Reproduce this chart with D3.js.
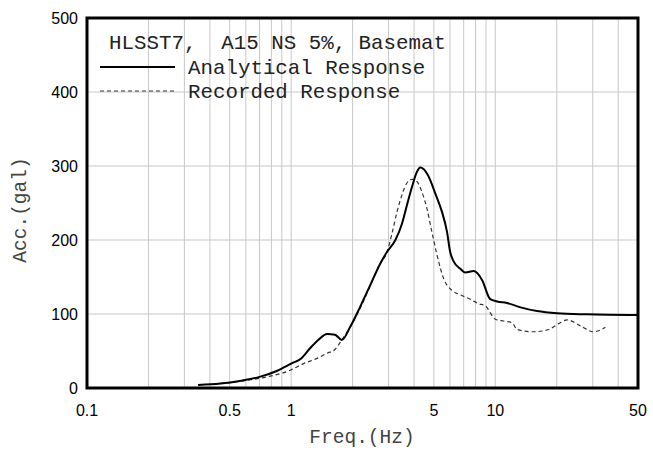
<!DOCTYPE html>
<html>
<head>
<meta charset="utf-8">
<script src="https://cdn.jsdelivr.net/npm/d3@7"></script>
<style>
  body { margin: 0; background: #fff; }
  svg { display: block; }
</style>
</head>
<body>
<div id="chart"></div>
<script>
// analytical response (solid)
const anaFreq = [0.35, 0.45, 0.56, 0.7, 0.85, 1.0, 1.12, 1.24, 1.37, 1.5, 1.64, 1.77, 1.95, 2.18, 2.44, 2.73, 2.95, 3.24, 3.49, 3.69, 3.91, 4.13, 4.29, 4.45, 4.71, 5.08, 5.48, 5.8, 6.01, 6.25, 6.74, 7.13, 7.83, 8.61, 9.45, 10.2, 11.4, 13.3, 16.0, 20.1, 28.1, 50];
const anaAcc  = [4, 6, 9.5, 15, 23, 33, 40, 54, 66, 73, 72, 65, 83, 110, 139, 168, 184, 200, 222, 247, 272, 292, 298, 296, 286, 263, 238, 211, 184, 171, 161, 156, 158, 146, 120, 117, 115, 109, 104, 101, 99.5, 98.5];

// recorded response (dashed)
const recFreq = [0.45, 0.62, 0.79, 0.99, 1.15, 1.34, 1.5, 1.64, 1.77, 1.95, 2.18, 2.44, 2.73, 2.95, 3.12, 3.3, 3.49, 3.69, 3.91, 4.13, 4.37, 4.62, 4.89, 5.18, 5.58, 6.13, 6.74, 7.54, 8.27, 8.93, 10.0, 11.0, 12.1, 12.8, 15.4, 18.3, 20.4, 22.5, 26.1, 30.3, 34.6];
const recAcc  = [6, 10.8, 16, 24, 33, 40, 47, 52, 65, 83, 108, 138, 168, 184, 209, 238, 261, 277, 282, 279, 265, 243, 211, 180, 148, 132, 126, 120, 114, 111, 93, 90.5, 88, 79, 76, 79, 87, 92, 84, 76, 82];

const xTickVals = [0.1, 0.5, 1, 5, 10, 50];
const xGridVals = [0.2, 0.3, 0.4, 0.5, 0.6, 0.7, 0.8, 0.9, 1, 2, 3, 4, 5, 6, 7, 8, 9, 10, 20, 30, 40];
const yTickVals = [0, 100, 200, 300, 400, 500];

const W = 653, H = 450;
const margin = { top: 18, right: 15, bottom: 62, left: 87 },
    width = W - margin.left - margin.right,
    height = H - margin.top - margin.bottom;

const svg = d3.select("#chart")
    .append("svg")
    .attr("width", W)
    .attr("height", H);

const g = svg.append("g")
    .attr("transform", `translate(${margin.left}, ${margin.top})`);

const x = d3.scaleLog().domain([0.1, 50]).range([0, width]);
const y = d3.scaleLinear().domain([0, 500]).range([height, 0]);

// grid
g.append("g").selectAll("line")
    .data(xGridVals)
    .enter().append("line")
    .attr("x1", d => x(d)).attr("x2", d => x(d))
    .attr("y1", 0).attr("y2", height)
    .attr("stroke", "#c8c8c8").attr("stroke-width", 1);
g.append("g").selectAll("line")
    .data(yTickVals.slice(1, -1))
    .enter().append("line")
    .attr("x1", 0).attr("x2", width)
    .attr("y1", d => y(d)).attr("y2", d => y(d))
    .attr("stroke", "#c8c8c8").attr("stroke-width", 1);

// tick labels
const tickFont = "'Liberation Sans', Arial, sans-serif";
g.append("g").selectAll("text")
    .data(yTickVals)
    .enter().append("text")
    .attr("x", -9).attr("y", d => y(d) + 6)
    .attr("text-anchor", "end")
    .attr("font-family", tickFont).attr("font-size", 16)
    .text(d => d);
g.append("g").selectAll("text")
    .data(xTickVals)
    .enter().append("text")
    .attr("x", d => x(d)).attr("y", height + 28)
    .attr("text-anchor", "middle")
    .attr("font-family", tickFont).attr("font-size", 16)
    .text(d => d);

// curves
const line = d3.line()
    .x(d => x(d[0]))
    .y(d => y(d[1]))
    .curve(d3.curveMonotoneX);

g.append("path")
    .datum(recFreq.map((f, i) => [f, recAcc[i]]))
    .attr("d", line)
    .attr("fill", "none")
    .attr("stroke", "#333")
    .attr("stroke-width", 1.2)
    .attr("stroke-dasharray", "4,3");

g.append("path")
    .datum(anaFreq.map((f, i) => [f, anaAcc[i]]))
    .attr("d", line)
    .attr("fill", "none")
    .attr("stroke", "#000")
    .attr("stroke-width", 2);

// frame
g.append("rect")
    .attr("x", 0).attr("y", 0)
    .attr("width", width).attr("height", height)
    .attr("fill", "none")
    .attr("stroke", "#000")
    .attr("stroke-width", 3);

// legend
const mono = "'Liberation Mono', 'Courier New', monospace";
svg.append("text")
    .attr("x", 109).attr("y", 49)
    .attr("font-family", mono).attr("font-size", 20.8)
    .attr("fill", "#222")
    .style("white-space", "pre")
    .text("HLSST7,  A15 NS 5%, Basemat");
svg.append("line")
    .attr("x1", 100).attr("x2", 175).attr("y1", 67).attr("y2", 67)
    .attr("stroke", "#000").attr("stroke-width", 1.8);
svg.append("text")
    .attr("x", 188).attr("y", 74)
    .attr("font-family", mono).attr("font-size", 20.8)
    .attr("fill", "#222")
    .text("Analytical Response");
svg.append("line")
    .attr("x1", 100).attr("x2", 175).attr("y1", 91).attr("y2", 91)
    .attr("stroke", "#333").attr("stroke-width", 1)
    .attr("stroke-dasharray", "4,3");
svg.append("text")
    .attr("x", 188).attr("y", 98)
    .attr("font-family", mono).attr("font-size", 20.8)
    .attr("fill", "#222")
    .text("Recorded Response");

// axis titles
svg.append("text")
    .attr("transform", "translate(26, 210) rotate(-90)")
    .attr("text-anchor", "middle")
    .attr("font-family", mono).attr("font-size", 19.5)
    .attr("fill", "#444")
    .text("Acc.(gal)");
svg.append("text")
    .attr("x", 362).attr("y", 443)
    .attr("text-anchor", "middle")
    .attr("font-family", mono).attr("font-size", 19.5)
    .attr("fill", "#444")
    .text("Freq.(Hz)");
</script>
</body>
</html>
